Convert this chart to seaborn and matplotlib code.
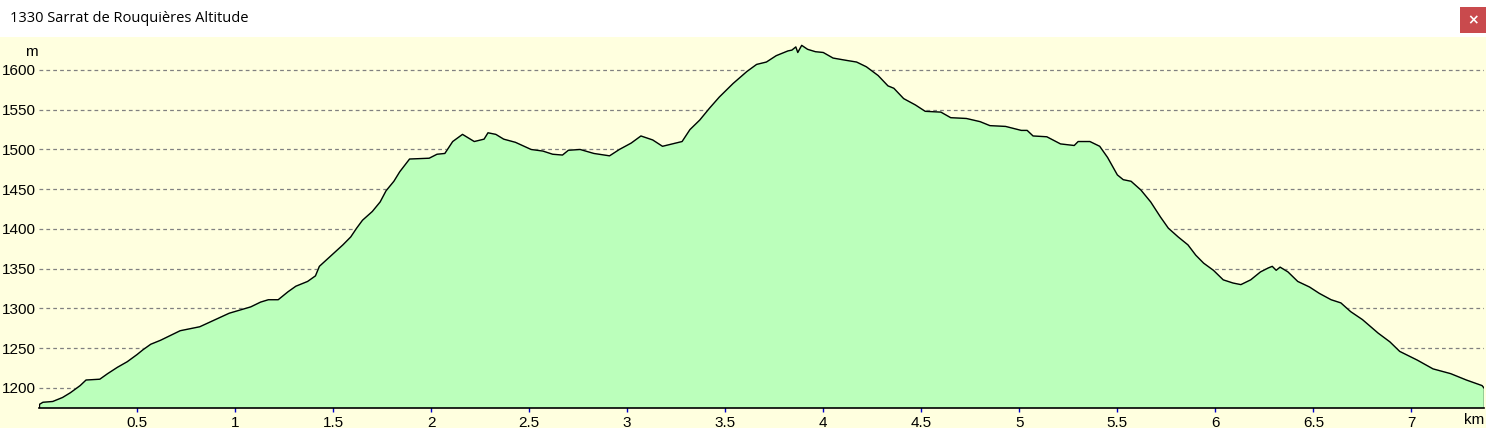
import matplotlib
matplotlib.use("Agg")
import matplotlib.pyplot as plt
import matplotlib.patches as mpatches
import seaborn as sns
import pandas as pd

# distance along the track (km) and altitude (m), read from the profile
dist_km = [0.00, 0.02, 0.07, 0.12, 0.16, 0.21, 0.24, 0.31, 0.35, 0.40, 0.45, 0.50,
           0.53, 0.57, 0.62, 0.67, 0.72, 0.82, 0.89, 0.97, 1.08, 1.13, 1.17, 1.22,
           1.27, 1.31, 1.37, 1.41, 1.43, 1.47, 1.51, 1.55, 1.59, 1.62, 1.65, 1.70,
           1.74, 1.77, 1.81, 1.84, 1.89, 1.99, 2.03, 2.07, 2.11, 2.16, 2.22, 2.27,
           2.29, 2.33, 2.37, 2.43, 2.51, 2.57, 2.62, 2.67, 2.70, 2.76, 2.83, 2.91,
           2.96, 3.02, 3.07, 3.13, 3.18, 3.23, 3.28, 3.32, 3.37, 3.42, 3.47, 3.54,
           3.61, 3.66, 3.71, 3.76, 3.82, 3.84, 3.86, 3.87, 3.89, 3.92, 3.96, 4.00,
           4.05, 4.12, 4.17, 4.22, 4.28, 4.33, 4.36, 4.41, 4.47, 4.52, 4.60, 4.65,
           4.73, 4.80, 4.85, 4.93, 5.01, 5.04, 5.07, 5.14, 5.21, 5.28, 5.30, 5.36,
           5.41, 5.45, 5.50, 5.53, 5.57, 5.62, 5.67, 5.72, 5.76, 5.81, 5.86, 5.90,
           5.94, 5.99, 6.04, 6.09, 6.13, 6.18, 6.23, 6.27, 6.29, 6.31, 6.33, 6.37,
           6.42, 6.48, 6.53, 6.59, 6.64, 6.69, 6.75, 6.83, 6.89, 6.94, 7.03, 7.11,
           7.20, 7.28, 7.36, 7.37]
alt_m = [1179, 1182, 1183, 1188, 1194, 1203, 1210, 1211, 1218, 1226, 1233, 1242,
         1248, 1255, 1260, 1266, 1272, 1277, 1285, 1294, 1302, 1308, 1311, 1311,
         1321, 1328, 1334, 1341, 1353, 1362, 1371, 1380, 1390, 1401, 1411, 1422,
         1434, 1448, 1460, 1472, 1488, 1489, 1494, 1495, 1510, 1519, 1510, 1513,
         1521, 1519, 1513, 1509, 1500, 1498, 1494, 1493, 1499, 1500, 1495, 1492,
         1500, 1508, 1517, 1512, 1504, 1507, 1510, 1525, 1537, 1552, 1566, 1583,
         1598, 1607, 1610, 1618, 1624, 1625, 1629, 1622, 1631, 1626, 1623, 1622,
         1615, 1612, 1610, 1604, 1593, 1580, 1577, 1564, 1556, 1548, 1547, 1540,
         1539, 1535, 1530, 1529, 1524, 1524, 1517, 1516, 1507, 1505, 1510, 1510,
         1504, 1490, 1468, 1462, 1460, 1449, 1434, 1415, 1401, 1390, 1380, 1367,
         1357, 1348, 1336, 1332, 1330, 1336, 1346, 1351, 1353, 1348, 1352, 1346,
         1334, 1327, 1319, 1311, 1307, 1296, 1286, 1269, 1258, 1246, 1235, 1224,
         1218, 1210, 1203, 1200]

x_ticks = [0.5, 1, 1.5, 2, 2.5, 3, 3.5, 4, 4.5, 5, 5.5, 6, 6.5, 7]
y_ticks = [1200, 1250, 1300, 1350, 1400, 1450, 1500, 1550, 1600]
title = "1330 Sarrat de Rouquières Altitude"

df = pd.DataFrame({"km": dist_km, "m": alt_m})

bg = "#FFFFDF"
fig = plt.figure(figsize=(14.86, 4.28), dpi=100)
fig.patch.set_facecolor("white")
# yellow panel below the title bar
fig.add_artist(mpatches.Rectangle((0, 0), 1, (428 - 37) / 428, transform=fig.transFigure,
                                  facecolor=bg, edgecolor="none", zorder=0))

ax = fig.add_axes([39 / 1486, 20 / 428, (1484 - 39) / 1486, (408 - 37) / 428])
ax.set_facecolor(bg)
ax.fill_between(df["km"], df["m"], 1000, color="#BBFFBB", zorder=2)
sns.lineplot(data=df, x="km", y="m", ax=ax, color="black", linewidth=1.0, zorder=3)
ax.plot([0, 0], [1174, alt_m[0]], color="black", lw=1.0, zorder=3)
ax.plot([dist_km[-1]] * 2, [1174, alt_m[-1]], color="black", lw=1.0, zorder=3)

ax.set_xlim(0, 7.37)
ax.set_ylim(1174.8, 1641.5)
ax.set_xticks(x_ticks)
ax.set_xticklabels([f"{t:g}" for t in x_ticks])
ax.set_yticks(y_ticks)
ax.set_yticklabels([str(t) for t in y_ticks])
for y in y_ticks:
    ax.axhline(y, color="#808080", lw=0.9, ls=(0, (3, 2.5)), zorder=1)

for s in ["top", "right", "left"]:
    ax.spines[s].set_visible(False)
ax.spines["bottom"].set_color("black")
ax.spines["bottom"].set_linewidth(1.2)
ax.spines["bottom"].set_zorder(4)
ax.tick_params(axis="x", direction="inout", length=6, width=1, color="#0000CC",
               labelsize=11, pad=3)
ax.tick_params(axis="y", length=0, labelsize=11, pad=2)
for lab in ax.get_xticklabels() + ax.get_yticklabels():
    lab.set_fontfamily("Liberation Sans")
ax.set_xlabel("")
ax.set_ylabel("")

fig.text(1474 / 1486, 1 - 420 / 428, "km", ha="center", va="center",
         fontsize=11, family="Liberation Sans")
fig.text(31 / 1486, 1 - 52 / 428, "m", ha="center", va="center",
         fontsize=11, family="Liberation Sans")
fig.text(10 / 1486, 1 - 19 / 428, title, ha="left", va="center",
         fontsize=10.5, family="Open Sans")

# close button
fig.add_artist(mpatches.Rectangle((1460 / 1486, 1 - 33 / 428), 26 / 1486, 26 / 428,
                                  transform=fig.transFigure, facecolor="#C94A4D",
                                  edgecolor="none"))
fig.text(1473 / 1486, 1 - 20 / 428, "×", ha="center", va="center", color="white",
         fontsize=10, fontweight="bold", family="DejaVu Sans")

fig.savefig("out.png", dpi=100)
